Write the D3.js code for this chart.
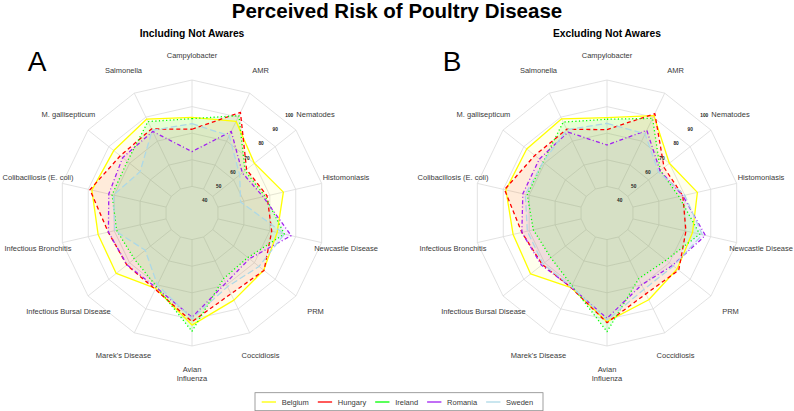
<!DOCTYPE html>
<html><head><meta charset="utf-8">
<script src="https://cdn.jsdelivr.net/npm/d3@7"></script>
<style>body{margin:0;background:#fff;} text{font-family:"Liberation Sans",Arial,sans-serif;}</style>
</head><body><svg id="c" width="794" height="411"></svg>
<script>
const title = "Perceived Risk of Poultry Disease";
const panelTitles = ["Including Not Awares", "Excluding Not Awares"];
const panelLetters = ["A", "B"];
const axes = ["Campylobacter","AMR","Nematodes","Histomoniasis","Newcastle Disease","PRM","Coccidiosis","Avian Influenza","Marek's Disease","Infectious Bursal Disease","Infectious Bronchitis","Colibacillosis (E. coli)","M. gallisepticum","Salmonella"];
const countries = ["Belgium","Hungary","Ireland","Romania","Sweden"];
const radialTicks = [40,50,60,70,80,90,100];

// Panel A: Including Not Awares
const belgiumA = [79, 82, 71, 78, 74.8, 77, 79.5, 87.2, 73, 79.6, 79.3, 82.5, 81.2, 83.3];
const hungaryA = [73, 87, 66, 69.6, 72, 77.2, 76, 85.5, 73.5, 72.8, 74.1, 83.5, 77, 77.8];
const irelandA = [78.3, 85.2, 65, 68.6, 78.5, 66.8, 67.5, 90.3, 72, 68, 69.8, 72.1, 72.5, 81.9];
const romaniaA = [61.8, 76.4, 63.3, 67.6, 82, 67.8, 70, 83.3, 72.5, 72.7, 74, 73.8, 75.5, 76.4];
const swedenA  = [75.8, 74, 61.6, 56, 78.5, 74, 72, 84, 71, 61, 70.7, 71.4, 64.3, 77];
// Panel B: Excluding Not Awares
const belgiumB = [78.8, 85.2, 71, 77.5, 75, 76, 79.3, 85.5, 72.5, 80, 79.3, 83, 82.5, 83.4];
const hungaryB = [72.8, 86.3, 67.6, 70, 71.6, 77, 76, 86, 72.5, 72.5, 74.8, 83.7, 77.3, 77.6];
const irelandB = [78, 83.7, 65.2, 68, 78.7, 68.9, 67.6, 90.5, 71.5, 67, 68.9, 72, 72, 81.6];
const romaniaB = [65.1, 77, 65, 70, 81.6, 73.1, 71, 83.8, 72.3, 73, 74.8, 74.3, 74.4, 76];
const swedenB  = [76, 75, 64, 71, 80, 73.6, 73.6, 84.7, 72, 72, 72, 73, 72, 77.4];

const panels = [
  [belgiumA, hungaryA, irelandA, romaniaA, swedenA],
  [belgiumB, hungaryB, irelandB, romaniaB, swedenB]
];

const colors = ["#FFFF00","#FF0000","#00FF00","#A020F0","#ADD8E6"];
const fillOpacity = [0.07, 0.08, 0.1, 0.06, 0.12];
const fillOrder = [0, 1, 3, 4, 2];
const dashes = [null, "4,3", "1.2,2.4", "1,2.4,4,2.4", "6.5,3"];

const svg = d3.select("#c");
const R = 133, cy = 213, centers = [192, 607];
const rScale = d3.scaleLinear().domain([31, 100]).range([0, 137.6]);
const angle = d3.scaleLinear().domain([0, axes.length]).range([0, 2 * Math.PI]);
const idx = d3.range(axes.length);

svg.append("text").attr("x", 397).attr("y", 17.5).attr("text-anchor", "middle")
  .style("font-size", "20.5px").style("font-weight", "bold").attr("fill", "#000").text(title);

panels.forEach((series, p) => {
  const cx = centers[p];
  const g = svg.append("g").attr("transform", `translate(${cx},${cy})`);
  svg.append("text").attr("x", cx).attr("y", 37.4).attr("text-anchor", "middle")
    .style("font-size", "10.3px").style("font-weight", "bold").attr("fill", "#000").text(panelTitles[p]);
  svg.append("text").attr("x", cx - 155).attr("y", 70.6).attr("text-anchor", "middle")
    .style("font-size", "28px").attr("fill", "#000").text(panelLetters[p]);

  // grid
  const ringLine = k => d3.lineRadial().angle(i => angle(i)).radius(() => R * k / 5).curve(d3.curveLinearClosed)(idx);
  [1,2,3,4,5].forEach(k => g.append("path").attr("d", ringLine(k)).attr("fill", "none").attr("stroke", "#dadada").attr("stroke-width", 0.8));
  idx.forEach(i => {
    const a = angle(i);
    g.append("line").attr("x1", R / 5 * Math.sin(a)).attr("y1", -R / 5 * Math.cos(a))
      .attr("x2", R * Math.sin(a)).attr("y2", -R * Math.cos(a)).attr("stroke", "#dadada").attr("stroke-width", 0.8);
  });

  // series
  const line = d3.lineRadial().angle((d, i) => angle(i)).radius(d => rScale(d)).curve(d3.curveLinearClosed);
  fillOrder.forEach(s => {
    g.append("path").attr("d", line(series[s])).attr("fill", colors[s]).attr("fill-opacity", fillOpacity[s]).attr("stroke", "none");
  });
  series.forEach((vals, s) => {
    g.append("path").attr("d", line(vals)).attr("fill", "none").attr("stroke", colors[s])
      .attr("stroke-width", 1.3).attr("stroke-dasharray", dashes[s]).attr("stroke-linejoin", "round");
  });

  // radial tick labels
  radialTicks.forEach(t => {
    const r = rScale(t), a = Math.PI / 4;
    g.append("text").attr("x", r * Math.sin(a)).attr("y", -r * Math.cos(a))
      .attr("text-anchor", "middle").attr("dominant-baseline", "central")
      .style("font-size", "4.8px").style("font-weight", "bold").attr("fill", "#222").text(t);
  });

  // axis labels
  idx.forEach(i => {
    const a = angle(i), lr = 158;
    const x = lr * Math.sin(a), y = -lr * Math.cos(a);
    const parts = axes[i] === "Avian Influenza" ? ["Avian", "Influenza"] : [axes[i]];
    const t = g.append("text").attr("text-anchor", "middle").style("font-size", "7.5px").attr("fill", "#3a3a3a");
    parts.forEach((pt, j) => {
      t.append("tspan").attr("x", x).attr("y", y + (j - (parts.length - 1) / 2) * 9 + (parts.length > 1 ? 3 : 0))
        .attr("dominant-baseline", "central").text(pt);
    });
  });
});

// legend
const lg = svg.append("g");
lg.append("rect").attr("x", 255).attr("y", 392.7).attr("width", 288).attr("height", 18)
  .attr("fill", "#fff").attr("stroke", "#888").attr("stroke-width", 0.8);
let xPos = 261.7;
countries.forEach((c, s) => {
  lg.append("line").attr("x1", xPos).attr("x2", xPos + 14.3).attr("y1", 402).attr("y2", 402)
    .attr("stroke", colors[s]).attr("stroke-width", 1.3);
  const t = lg.append("text").attr("x", xPos + 20).attr("y", 402).attr("dominant-baseline", "central")
    .style("font-size", "7.5px").attr("fill", "#3a3a3a").text(c);
  xPos += 20 + t.node().getComputedTextLength() + 9;
});
</script></body></html>
